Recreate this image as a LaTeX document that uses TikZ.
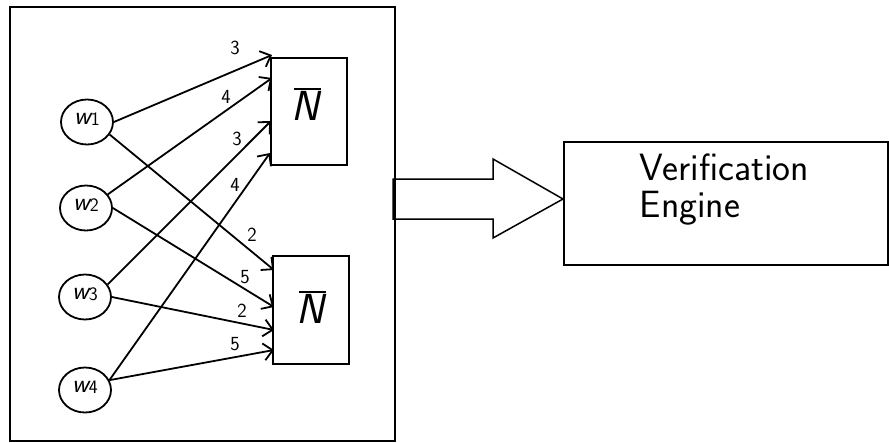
\documentclass[tikz,border=0pt]{standalone}
\usetikzlibrary{arrows.meta,shapes.geometric}
\begin{document}
\begin{tikzpicture}[x=1pt,y=-1pt,line width=1.8pt,
  wnode/.style={draw,ellipse,minimum width=52pt,minimum height=45pt,inner sep=0pt,font=\fontsize{26}{28}\selectfont\sffamily},
  nbox/.style={draw,rectangle,inner sep=0pt},
  ntext/.style={font=\fontsize{42}{44}\selectfont\sffamily,inner sep=0pt,anchor=base},
  wt/.style={font=\fontsize{20}{22}\selectfont\sffamily,inner sep=0pt},
  arr/.style={-{Straight Barb[length=9pt,width=17pt,line width=1.8pt]}},
  frame/.style={draw,line width=1.8pt}]
\useasboundingbox (0,0) rectangle (889,442);
\newcommand{\wlab}[1]{\raisebox{6pt}{\itshape w\upshape\raisebox{-1pt}{\fontsize{19}{19}\selectfont #1}}}
\newcommand{\nbar}{\rlap{\hspace{3pt}\rule[30pt]{27pt}{1.6pt}}\itshape N}
% outer frame
\node[frame,minimum width=385pt,minimum height=434pt,inner sep=0pt,anchor=north west] (outer) at (9,6) {};
% w nodes
\node[wnode] (w1) at (87,122) {\wlab{1}};
\node[wnode] (w2) at (86,208) {\wlab{2}};
\node[wnode] (w3) at (85,297) {\wlab{3}};
\node[wnode] (w4) at (85,390) {\wlab{4}};
% N boxes
\node[nbox,minimum width=76pt,minimum height=107pt,anchor=north west] (n1) at (270,57) {};
\node[nbox,minimum width=76pt,minimum height=108pt,anchor=north west] (n2) at (272,255) {};
\node[ntext] (n1t) at (305,120) {\nbar};
\node[ntext] (n2t) at (310,323) {\nbar};
% arrow end points
\coordinate (a1) at (272,55);
\coordinate (a2) at (272,78);
\coordinate (a3) at (271,121);
\coordinate (a4) at (270,153);
\coordinate (b1) at (274,270);
\coordinate (b2) at (274,307);
\coordinate (b3) at (274,330);
\coordinate (b4) at (274,350);
\draw[arr] (w1.east) -- (a1);
\draw[arr] (w2.32) -- (a2);
\draw[arr] (w3.29) -- (a3);
\draw[arr] (w4.22) -- (a4);
\draw[arr] (w1.-29) -- (b1);
\draw[arr] (w2.east) -- (b2);
\draw[arr] (w3.east) -- (b3);
\draw[arr] (w4.22) -- (b4);
% weights
\node[wt] (l1) at (235,48) {3};
\node[wt] (l2) at (226,97) {4};
\node[wt] (l3) at (237,139) {3};
\node[wt] (l4) at (235,185) {4};
\node[wt] (l5) at (252,235) {2};
\node[wt] (l6) at (245,277) {5};
\node[wt] (l7) at (242,311) {2};
\node[wt] (l8) at (235,344) {5};
% big hollow arrow
\draw[line width=1.5pt,line join=miter] (393,179) -- (493,179) -- (493,159) -- (563,199) -- (493,238) -- (493,219) -- (393,219) -- cycle;
% verification engine
\node[draw,line width=1.5pt,minimum width=324pt,minimum height=123pt,inner sep=0pt,anchor=north west] (ve) at (563,141) {};
\node[font=\fontsize{38}{37}\selectfont\sffamily,align=left,anchor=base west,inner sep=0pt] (vet) at (639,217) {Verification\\Engine};
\end{tikzpicture}
\end{document}
